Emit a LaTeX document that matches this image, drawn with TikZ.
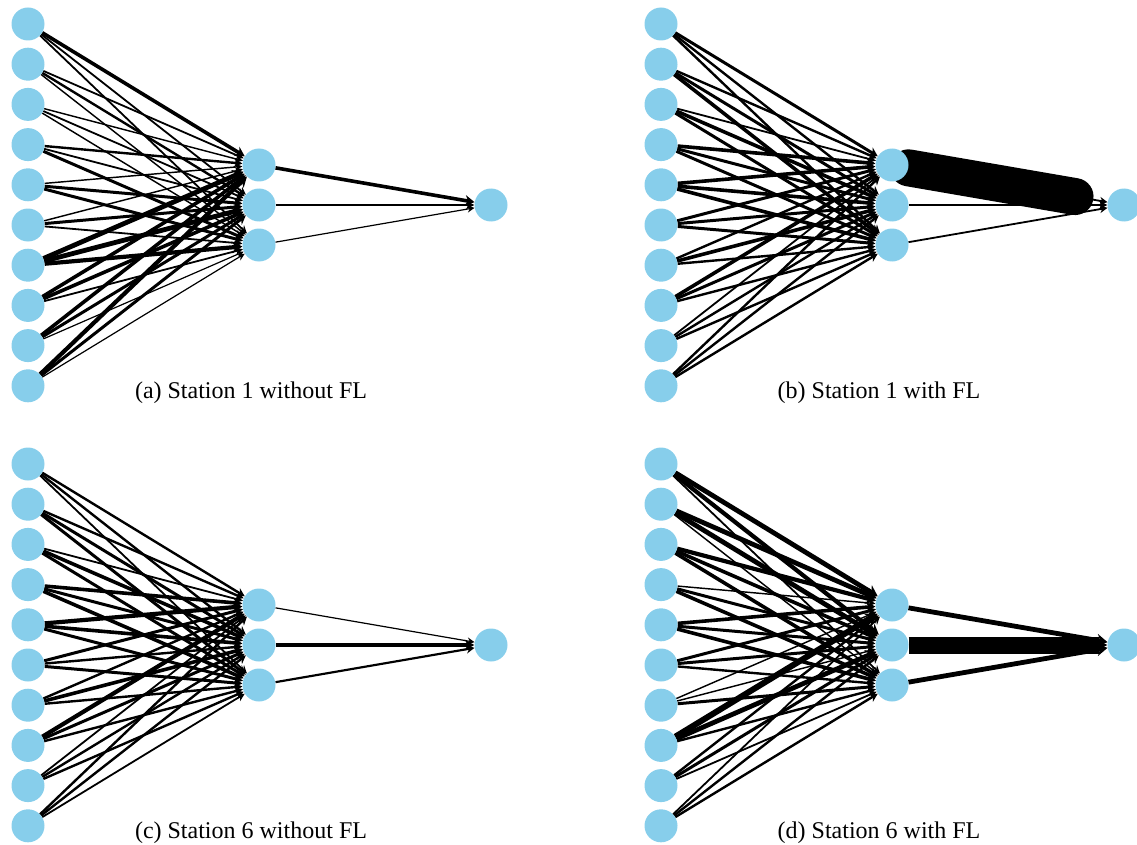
\documentclass[tikz,border=0pt]{standalone}
\usepackage{fontspec}
\setmainfont{Liberation Serif}
\usetikzlibrary{arrows.meta}
\definecolor{nodeblue}{RGB}{135,206,235}
\pgfdeclarelayer{bg}
\pgfsetlayers{bg,main}
\tikzset{
  neuron/.style={circle, fill=nodeblue, draw=none, minimum size=33pt, inner sep=0pt},
  wedge/.style={-{Stealth[length=6pt 1, width=5pt 1.6]}, black},
  lw/.style={line width={1.2*#1}},
  band/.style={black, line cap=round},
  caption/.style={font=\fontsize{24}{28}\selectfont, inner sep=0pt, anchor=base}
}
\begin{document}
\begin{tikzpicture}[x=1pt,y=-1pt]
\useasboundingbox (0,0) rectangle (1137,845);
% nodes of the four panels
\foreach \p/\dx/\dy in {a/0/0, b/633/0, c/0/440, d/633/440} {
  \foreach \i in {1,...,10}
    \node[neuron] (\p i\i) at ({28+\dx}, {24+40.2*(\i-1)+\dy}) {};
  \foreach \j in {1,2,3}
    \node[neuron] (\p h\j) at ({259+\dx}, {125+40*\j+\dy}) {};
  \node[neuron] (\p o) at ({491+\dx}, {205+\dy}) {};
}
\begin{pgfonlayer}{bg}
% (a) Station 1 without FL
\foreach \i/\wa/\wb/\wc in {1/3/1.5/1.5, 2/1.5/2/1.2, 3/1.2/1.5/1.2, 4/2/1.5/2.5, 5/1.2/2.5/2.5,
    6/1.2/2.5/1.5, 7/4/4/3.5, 8/3/3/1.5, 9/3/2.5/1, 10/3.5/2.5/1} {
  \draw[wedge, lw=\wa] (ai\i) -- (ah1);
  \draw[wedge, lw=\wb] (ai\i) -- (ah2);
  \draw[wedge, lw=\wc] (ai\i) -- (ah3);
}
\draw[wedge, lw=3] (ah1) -- (ao);
\draw[wedge, lw=2] (ah2) -- (ao);
\draw[wedge, lw=1] (ah3) -- (ao);
% (b) Station 1 with FL
\foreach \i/\wa/\wb/\wc in {1/2.5/2/2, 2/2/2.5/3, 3/1.5/3/2.5, 4/3/2.5/2.5, 5/3/3/3,
    6/2.5/2.5/2.5, 7/2/3/2, 8/3/2.5/2, 9/1.5/2/2, 10/2/2/2} {
  \draw[wedge, lw=\wa] (bi\i) -- (bh1);
  \draw[wedge, lw=\wb] (bi\i) -- (bh2);
  \draw[wedge, lw=\wc] (bi\i) -- (bh3);
}
\draw[band, line width=37pt, shorten >=33pt] (bh1) -- (bo);
\draw[wedge, lw=1.5] (bh1) -- (bo);
\draw[wedge, lw=2] (bh2) -- (bo);
\draw[wedge, lw=1.5] (bh3) -- (bo);
% (c) Station 6 without FL
\foreach \i/\wa/\wb/\wc in {1/2/2/1.5, 2/2/2.5/2.5, 3/1.5/3/2.5, 4/3/2.5/3, 5/3.5/3/2.5,
    6/2.5/2/2.5, 7/2/3/2, 8/3.5/2.5/2, 9/1.5/2/2, 10/2/2/1.5} {
  \draw[wedge, lw=\wa] (ci\i) -- (ch1);
  \draw[wedge, lw=\wb] (ci\i) -- (ch2);
  \draw[wedge, lw=\wc] (ci\i) -- (ch3);
}
\draw[wedge, lw=1] (ch1) -- (co);
\draw[wedge, lw=3] (ch2) -- (co);
\draw[wedge, lw=1.8] (ch3) -- (co);
% (d) Station 6 with FL
\foreach \i/\wa/\wb/\wc in {1/4/3.5/1.5, 2/4/4/1.2, 3/3.5/3/3, 4/1.2/2.5/3, 5/3/2.5/3,
    6/2.5/2.5/2, 7/1.2/1.2/2.5, 8/5/4/2, 9/2/2.5/1.5, 10/1.5/2/2} {
  \draw[wedge, lw=\wa] (di\i) -- (dh1);
  \draw[wedge, lw=\wb] (di\i) -- (dh2);
  \draw[wedge, lw=\wc] (di\i) -- (dh3);
}
\draw[wedge, lw=4] (dh1) -- (do);
\draw[black, line width=17pt, shorten >=8pt] (dh2) -- (do);
\draw[wedge, lw=2] (dh2) -- (do);
\draw[wedge, lw=4] (dh3) -- (do);
\end{pgfonlayer}
% captions
\node[caption] (capa) at (251,398) {(a) Station 1 without FL};
\node[caption] (capb) at (879,398) {(b) Station 1 with FL};
\node[caption] (capc) at (251,838) {(c) Station 6 without FL};
\node[caption] (capd) at (879,838) {(d) Station 6 with FL};
\end{tikzpicture}
\end{document}
